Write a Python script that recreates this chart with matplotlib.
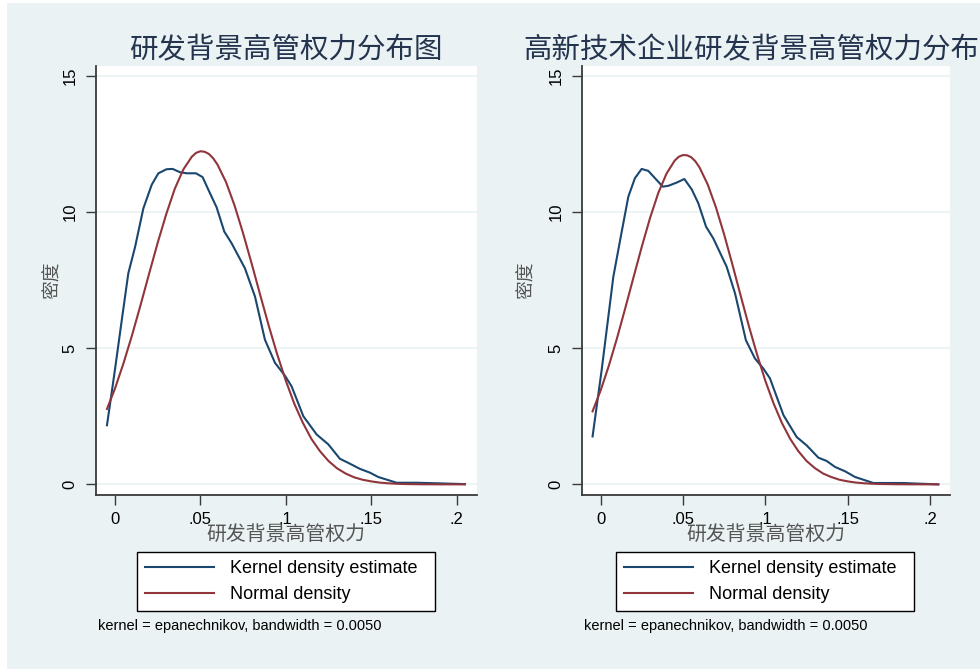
import matplotlib
matplotlib.use("Agg")
import matplotlib.pyplot as plt
from matplotlib.patches import Rectangle
from matplotlib.lines import Line2D

plt.rcParams['font.family'] = ['Liberation Sans', 'Noto Sans CJK SC', 'DejaVu Sans']

# --- data ---
titles = ["研发背景高管权力分布图", "高新技术企业研发背景高管权力分布图"]
xlabel = "研发背景高管权力"
ylabel = "密度"
note = "kernel = epanechnikov, bandwidth = 0.0050"
legend_labels = ["Kernel density estimate", "Normal density"]
xticks = [0, 0.05, 0.1, 0.15, 0.2]
xtick_labels = ["0", ".05", ".1", ".15", ".2"]
yticks = [0, 5, 10, 15]

kde_x_left = [-0.0047, 0.0, 0.0039, 0.0078, 0.0117, 0.0166, 0.0215, 0.0254, 0.0302, 0.0338,
              0.038, 0.042, 0.0474, 0.0513, 0.0556, 0.0595, 0.064, 0.0683, 0.0761, 0.082,
              0.0878, 0.0937, 0.0995, 0.1034, 0.1103, 0.1181, 0.1249, 0.1317, 0.1366, 0.1434,
              0.1493, 0.1542, 0.1649, 0.1766, 0.1883, 0.2049]
kde_y_left = [2.17, 4.22, 6.0, 7.75, 8.7, 10.13, 11.0, 11.42, 11.57, 11.58,
              11.46, 11.42, 11.42, 11.28, 10.69, 10.17, 9.28, 8.85, 7.93, 6.89,
              5.31, 4.46, 3.99, 3.6, 2.5, 1.83, 1.47, 0.94, 0.79, 0.57,
              0.43, 0.27, 0.06, 0.06, 0.04, 0.01]

kde_x_right = [-0.0049, 0.0006, 0.0077, 0.0128, 0.0168, 0.0208, 0.0249, 0.0289, 0.033, 0.0377,
               0.0411, 0.0462, 0.0508, 0.0553, 0.0593, 0.064, 0.0684, 0.0765, 0.0816, 0.0882,
               0.0937, 0.0988, 0.1028, 0.111, 0.119, 0.1251, 0.1322, 0.1372, 0.1423, 0.1484,
               0.1545, 0.1656, 0.1838, 0.1919, 0.205]
kde_y_right = [1.76, 4.19, 7.62, 9.28, 10.56, 11.24, 11.58, 11.51, 11.24, 10.93,
               10.96, 11.08, 11.21, 10.83, 10.32, 9.46, 9.03, 7.99, 7.01, 5.29,
               4.62, 4.25, 3.89, 2.54, 1.74, 1.43, 0.98, 0.86, 0.64, 0.48,
               0.27, 0.05, 0.05, 0.03, 0.0]

norm_x_left = [-0.0047, 0.0, 0.005, 0.01, 0.015, 0.02, 0.025, 0.03, 0.035, 0.04, 0.045,
               0.0475, 0.05, 0.0525, 0.055, 0.0575,
               0.06, 0.065, 0.07, 0.075, 0.08, 0.085, 0.09, 0.095, 0.1, 0.105, 0.11,
               0.115, 0.12, 0.125, 0.13, 0.135, 0.14, 0.145, 0.15, 0.155, 0.16, 0.165, 0.17,
               0.18, 0.19, 0.2049]
norm_y_left = [2.77, 3.52, 4.45, 5.48, 6.59, 7.74, 8.87, 9.92, 10.85, 11.56, 12.03,
               12.17, 12.23, 12.21, 12.13, 11.97,
               11.74, 11.10, 10.24, 9.22, 8.11, 6.96, 5.83, 4.77, 3.81, 2.96, 2.26,
               1.67, 1.22, 0.86, 0.59, 0.40, 0.26, 0.17, 0.11, 0.065, 0.039, 0.022, 0.012,
               0.003, 0.001, 0.0]

norm_x_right = [-0.0049, 0.0, 0.005, 0.01, 0.015, 0.02, 0.025, 0.03, 0.035, 0.04, 0.045,
                0.0475, 0.05, 0.0525, 0.055, 0.0575,
                0.06, 0.065, 0.07, 0.075, 0.08, 0.085, 0.09, 0.095, 0.1, 0.105, 0.11,
                0.115, 0.12, 0.125, 0.13, 0.135, 0.14, 0.145, 0.15, 0.155, 0.16, 0.165, 0.17,
                0.18, 0.19, 0.205]
norm_y_right = [2.68, 3.45, 4.36, 5.38, 6.48, 7.61, 8.73, 9.78, 10.70, 11.41, 11.89,
                12.03, 12.09, 12.08, 12.01, 11.86,
                11.64, 11.01, 10.17, 9.17, 8.07, 6.93, 5.81, 4.76, 3.80, 2.97, 2.26,
                1.68, 1.22, 0.86, 0.60, 0.40, 0.27, 0.17, 0.11, 0.066, 0.040, 0.023, 0.013,
                0.004, 0.001, 0.0]

# --- style ---
BG = '#eaf2f3'
BLUE = '#1a476f'
RED = '#90353b'
W, H = 980, 669

fig = plt.figure(figsize=(9.8, 6.69), dpi=100, facecolor='white')
fig.patches.append(Rectangle((7 / W, 0), 1, 1 - 3 / H, transform=fig.transFigure,
                             facecolor=BG, edgecolor='none', zorder=-10))

panels = [
    dict(rect=(95.7, 476.7), xlim=(-0.0113, 0.2118), kx=kde_x_left, ky=kde_y_left,
         nx=norm_x_left, ny=norm_y_left, title=titles[0], ylab_x=52, leg=(137, 435), note_x=98),
    dict(rect=(581.7, 950.0), xlim=(-0.0115, 0.2121), kx=kde_x_right, ky=kde_y_right,
         nx=norm_x_right, ny=norm_y_right, title=titles[1], ylab_x=526, leg=(616, 914), note_x=584),
]

top_px, bot_px = 65.7, 495.0

for p in panels:
    x0, x1 = p['rect']
    ax = fig.add_axes([x0 / W, 1 - bot_px / H, (x1 - x0) / W, (bot_px - top_px) / H])
    ax.set_facecolor('white')
    ax.plot(p['kx'], p['ky'], color=BLUE, lw=1.5, label=legend_labels[0], zorder=3)
    ax.plot(p['nx'], p['ny'], color=RED, lw=1.5, label=legend_labels[1], zorder=3)
    ax.set_xlim(*p['xlim'])
    ax.set_ylim(-0.39, 15.37)
    ax.set_xticks(xticks)
    ax.set_xticklabels(xtick_labels)
    ax.set_yticks(yticks)
    ax.set_yticklabels([str(v) for v in yticks], rotation=90, va='center')
    ax.grid(axis='y', color=BG, lw=1.2, zorder=0)
    ax.set_axisbelow(True)
    for s in ['top', 'right']:
        ax.spines[s].set_visible(False)
    for s in ['left', 'bottom']:
        ax.spines[s].set_color('#3a3a3a')
        ax.spines[s].set_linewidth(1.3)
    ax.tick_params(axis='both', direction='out', length=7, width=1, color='#3a3a3a',
                   labelsize=12, labelcolor='black')
    ax.tick_params(axis='x', pad=5)
    ax.tick_params(axis='y', pad=6)

    cx = (x0 + x1) / 2
    fig.text(cx / W, 1 - 50 / H, p['title'], ha='center', va='center', fontsize=20.5,
             color='#24344f', family=['Noto Sans CJK SC'])
    fig.text(cx / W, 1 - 534 / H, xlabel, ha='center', va='center', fontsize=14.3,
             color='#555555', family=['Noto Sans CJK SC'])
    fig.text(p['ylab_x'] / W, 1 - 280 / H, ylabel, ha='center', va='center', fontsize=13.5,
             rotation=90, color='#555555', family=['Noto Sans CJK SC'])

    lx0, lx1 = p['leg']
    handles = [Line2D([], [], color=BLUE, lw=1.5), Line2D([], [], color=RED, lw=1.5)]
    leg = fig.legend(handles, legend_labels, loc='center',
                     bbox_to_anchor=(lx0 / W, 1 - 610 / H, (lx1 - lx0) / W, 57 / H),
                     mode='expand', fontsize=13, frameon=True, fancybox=False,
                     edgecolor='black', facecolor='white', framealpha=1,
                     handlelength=3.8, handletextpad=0.9, labelspacing=0.5,
                     borderpad=0.45, borderaxespad=0)
    leg.get_frame().set_linewidth(1.0)

    fig.text(p['note_x'] / W, 1 - 626 / H, note, ha='left', va='center', fontsize=10.5,
             color='black')

fig.savefig('out.png', dpi=100, facecolor=fig.get_facecolor())
